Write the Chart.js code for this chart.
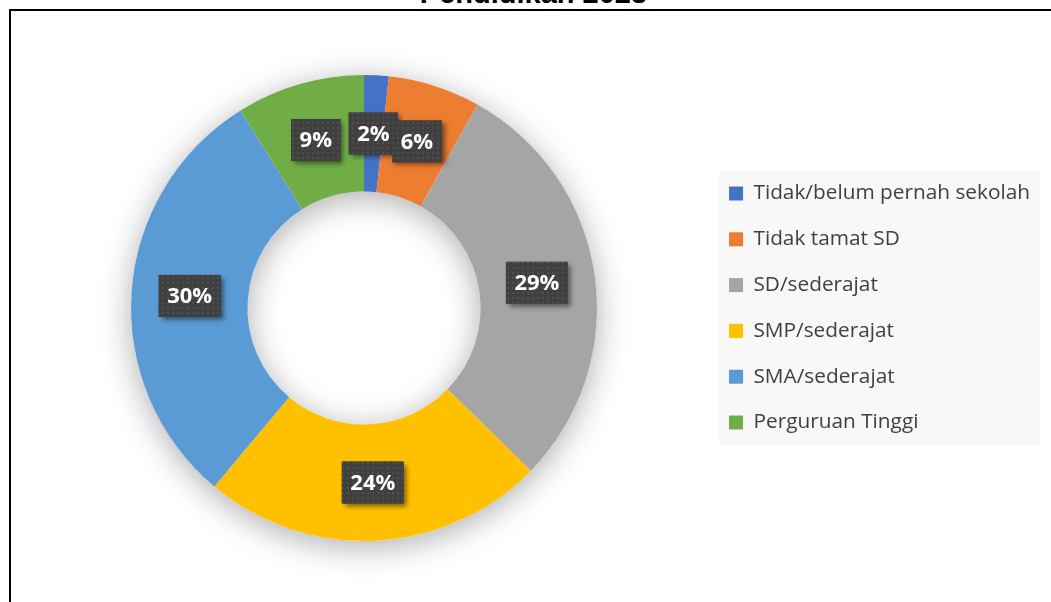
<!DOCTYPE html>
<html>
<head>
<meta charset="utf-8">
<script src="https://cdn.jsdelivr.net/npm/chart.js@4.4.1/dist/chart.umd.min.js"></script>
<style>
  html, body { margin: 0; padding: 0; background: #fff; overflow: hidden; }
  #wrap { position: relative; width: 1051px; height: 602px; }
  #frame {
    position: absolute; left: 9px; top: 9px; right: -10px; bottom: -10px;
    border: 2px solid #000;
  }
  #title {
    position: absolute; left: 0; width: 1067px; top: -21px;
    text-align: center; font: bold 29px "Liberation Sans", Arial, sans-serif;
    line-height: 29px; color: #000; white-space: nowrap;
  }
  canvas { position: absolute; left: 0; top: 0; }
</style>
</head>
<body>
<div id="wrap">
  <div id="frame"></div>
  <div id="title">Pendidikan 2023</div>
  <canvas id="chart" width="1051" height="602"></canvas>
</div>
<script>
const categories = [
  "Tidak/belum pernah sekolah",
  "Tidak tamat SD",
  "SD/sederajat",
  "SMP/sederajat",
  "SMA/sederajat",
  "Perguruan Tinggi",
];
const shares = [1.7, 6.4, 29.2, 23.8, 30.0, 8.9];
const sliceColors = ["#4472C4", "#ED7D31", "#A5A5A5", "#FFC000", "#5B9BD5", "#70AD47"];

// dotted dark fill used behind the percentage labels
function labelPattern(ctx) {
  const c = document.createElement("canvas");
  c.width = 5;
  c.height = 5;
  const p = c.getContext("2d");
  p.fillStyle = "#404040";
  p.fillRect(0, 0, 5, 5);
  p.fillStyle = "#4e4e4e";
  p.fillRect(2, 2, 2, 2);
  return ctx.createPattern(c, "repeat");
}

const legendBack = {
  id: "legendBack",
  beforeDraw(chart) {
    const boxes = chart.legend && chart.legend.legendHitBoxes;
    if (!boxes || !boxes.length) return;
    let l = Infinity, t = Infinity, r = -Infinity, b = -Infinity;
    boxes.forEach((h) => {
      l = Math.min(l, h.left);
      t = Math.min(t, h.top);
      r = Math.max(r, h.left + h.width);
      b = Math.max(b, h.top + h.height);
    });
    const ctx = chart.ctx;
    ctx.save();
    ctx.fillStyle = "#f8f8f8";
    ctx.fillRect(l - 10, t - 12, r - l + 20, b - t + 24);
    ctx.restore();
  },
};

const ringShadow = {
  id: "ringShadow",
  beforeDatasetsDraw(chart) {
    const arc = chart.getDatasetMeta(0).data[0];
    if (!arc) return;
    const { x, y, outerRadius, innerRadius } = arc.getProps(["x", "y", "outerRadius", "innerRadius"], true);
    const ctx = chart.ctx;
    ctx.save();
    ctx.shadowColor = "rgba(0,0,0,0.32)";
    ctx.shadowBlur = 32;
    ctx.shadowOffsetY = 6;
    ctx.beginPath();
    ctx.arc(x, y, outerRadius, 0, Math.PI * 2);
    ctx.arc(x, y, innerRadius, 0, Math.PI * 2, true);
    ctx.fillStyle = "#fff";
    ctx.fill();
    ctx.restore();
  },
};

const pctLabels = {
  id: "pctLabels",
  afterDatasetsDraw(chart) {
    const ctx = chart.ctx;
    const meta = chart.getDatasetMeta(0);
    const total = shares.reduce((a, b) => a + b, 0);
    const fill = labelPattern(ctx);
    ctx.save();
    ctx.font = 'bold 22px "Open Sans", sans-serif';
    meta.data.forEach((arc, i) => {
      const pos = arc.getCenterPoint(true);
      const text = Math.round((shares[i] / total) * 100) + "%";
      const w = ctx.measureText(text).width + 17;
      const h = 42;
      const bx = pos.x - w / 2;
      const by = pos.y - h / 2;
      ctx.save();
      ctx.shadowColor = "rgba(0,0,0,0.5)";
      ctx.shadowBlur = 5;
      ctx.shadowOffsetX = 3;
      ctx.shadowOffsetY = 3;
      ctx.fillStyle = "#404040";
      ctx.fillRect(bx, by, w, h);
      ctx.restore();
      ctx.fillStyle = fill;
      ctx.fillRect(bx, by, w, h);
      ctx.fillStyle = "#ffffff";
      ctx.textAlign = "center";
      ctx.textBaseline = "middle";
      ctx.fillText(text, pos.x, pos.y + 1);
    });
    ctx.restore();
  },
};

new Chart(document.getElementById("chart"), {
  type: "doughnut",
  data: {
    labels: categories,
    datasets: [
      {
        data: shares,
        backgroundColor: sliceColors,
        borderWidth: 0,
      },
    ],
  },
  options: {
    responsive: false,
    animation: false,
    cutout: "50%",
    layout: {
      padding: { left: 24, right: 11, top: 75, bottom: 61 },
    },
    plugins: {
      legend: {
        position: "right",
        labels: {
          boxWidth: 14,
          boxHeight: 14,
          padding: 25,
          color: "#404040",
          font: { family: "Open Sans", size: 20.8 },
        },
      },
      tooltip: { enabled: false },
    },
  },
  plugins: [legendBack, ringShadow, pctLabels],
});
</script>
</body>
</html>
